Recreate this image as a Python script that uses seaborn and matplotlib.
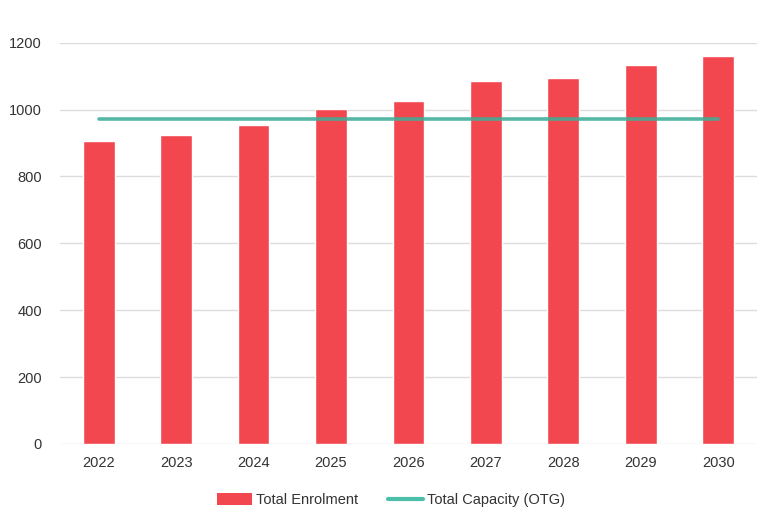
import matplotlib
matplotlib.use("Agg")
import matplotlib.pyplot as plt
import seaborn as sns
import pandas as pd
from matplotlib.patches import Patch
from matplotlib.lines import Line2D

years = ["2022", "2023", "2024", "2025", "2026", "2027", "2028", "2029", "2030"]
enrolment = [905, 925, 954, 1001, 1027, 1085, 1094, 1133, 1159]
capacity = [973, 973, 973, 973, 973, 973, 973, 973, 973]
y_ticks = [0, 200, 400, 600, 800, 1000, 1200]

df = pd.DataFrame({"Year": years, "Total Enrolment": enrolment, "Total Capacity (OTG)": capacity})

sns.set_theme(style="white")
plt.rcParams["font.family"] = ["Liberation Sans", "DejaVu Sans"]

bar_color = "#f3474f"
line_color = "#3fae98"

fig = plt.figure(figsize=(7.74, 5.21), dpi=100)
ax = fig.add_axes([0.0775, 0.148, 0.9005, 0.770])

sns.barplot(data=df, x="Year", y="Total Enrolment", color=bar_color, width=0.41,
            saturation=1, ax=ax, zorder=2)
sns.pointplot(data=df, x="Year", y="Total Capacity (OTG)", color=line_color, markers="",
              linewidth=2.6, alpha=0.88, ax=ax, zorder=3)

ax.set_ylim(0, 1200)
ax.set_xlim(-0.5, 8.5)
ax.set_yticks(y_ticks)
ax.yaxis.grid(True, color="#dcdcdc", linewidth=1)
ax.set_axisbelow(True)
for s in ax.spines.values():
    s.set_visible(False)
ax.set_xlabel("")
ax.set_ylabel("")
ax.tick_params(axis="both", length=0, labelsize=10.5, labelcolor="#333333")
ax.tick_params(axis="x", pad=9)
ax.tick_params(axis="y", pad=13)

handles = [Patch(facecolor=bar_color, edgecolor="none"),
           Line2D([0], [0], color="#4cbfa8", linewidth=3)]
fig.legend(handles, ["Total Enrolment", "Total Capacity (OTG)"], loc="center",
           bbox_to_anchor=(0.505, 0.04), ncol=2, frameon=False, fontsize=10.5,
           handlelength=2.4, handleheight=0.9, columnspacing=2.0, handletextpad=0.3,
           labelcolor="#333333")

fig.savefig("out.png", dpi=100)
